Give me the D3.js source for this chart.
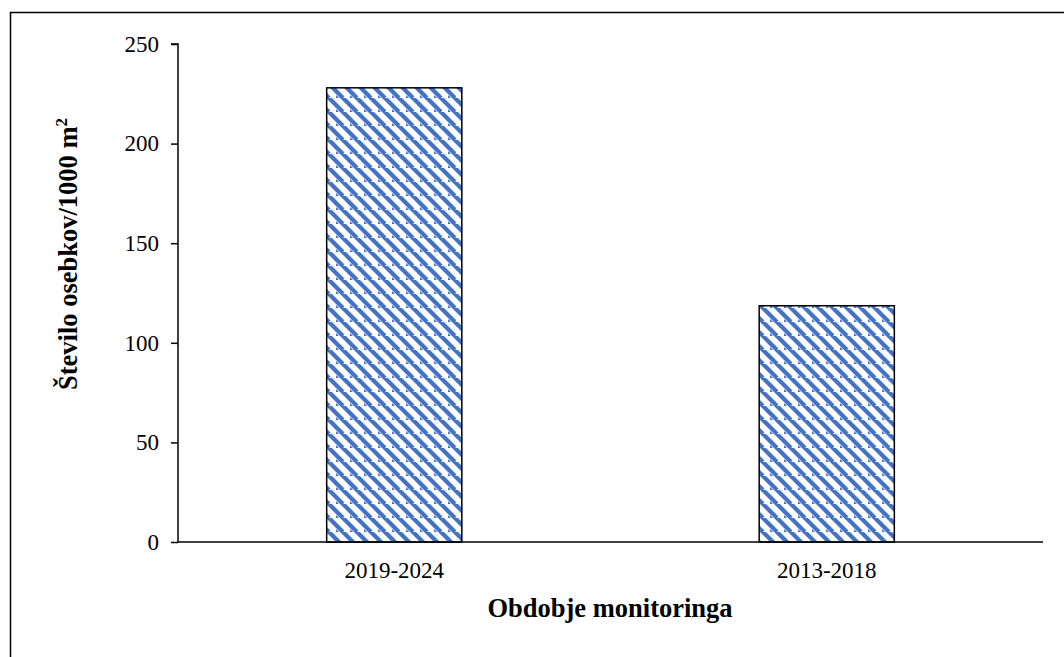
<!DOCTYPE html>
<html><head><meta charset="utf-8">
<script src="https://cdn.jsdelivr.net/npm/d3@7"></script>
<style>body{margin:0;background:#fff}svg{display:block}</style>
</head><body>
<svg id="c" width="1064" height="657"></svg>
<script>
const categories = ["2019-2024", "2013-2018"];
const values = [228, 118.6];
const yTicks = [0, 50, 100, 150, 200, 250];

const svg = d3.select("#c");
const m = {left: 178, right: 1043, top: 44, bottom: 542};
const font = "'Liberation Serif','Times New Roman',serif";

svg.append("rect").attr("x", 10.5).attr("y", 12.5).attr("width", 1100).attr("height", 700)
  .attr("fill", "none").attr("stroke", "#000").attr("stroke-width", 1.5);

const defs = svg.append("defs");
const pat = defs.append("pattern").attr("id", "hatch").attr("patternUnits", "userSpaceOnUse")
  .attr("width", 14).attr("height", 14);
pat.append("rect").attr("width", 14).attr("height", 14).attr("fill", "#fff");
pat.append("path").attr("d", "M-7,0 L7,14 M0,-7 L14,7 M7,0 L21,14 M0,7 L7,14 M-7,7 L7,21")
  .attr("stroke", "#4472C4").attr("stroke-width", 4.2);

const x = d3.scaleBand().domain(categories).range([m.left, m.right]).paddingInner(0.6875).paddingOuter(0.34375);
const y = d3.scaleLinear().domain([0, 250]).range([m.bottom, m.top]);

svg.selectAll("rect.bar").data(values).enter().append("rect").attr("class", "bar")
  .attr("x", (d, i) => x(categories[i])).attr("y", d => y(d))
  .attr("width", x.bandwidth()).attr("height", d => y(0) - y(d))
  .attr("fill", "url(#hatch)").attr("stroke", "#000").attr("stroke-width", 1.5);

const ya = svg.append("g").attr("transform", `translate(${m.left},0)`)
  .call(d3.axisLeft(y).tickValues(yTicks).tickSize(7).tickPadding(12));
ya.select(".domain").attr("stroke-width", 1.5).attr("d", `M-7,${m.top}H0V${m.bottom}`);
ya.selectAll(".tick line").attr("stroke-width", 1.5);
ya.selectAll("text").attr("font-family", font).attr("font-size", 23).attr("fill", "#000");

const xa = svg.append("g").attr("transform", `translate(0,${m.bottom})`)
  .call(d3.axisBottom(x).tickSize(0).tickPadding(20));
xa.select(".domain").attr("stroke-width", 1.5).attr("d", `M${m.left},0H${m.right}`);
xa.selectAll("text").attr("font-family", font).attr("font-size", 23).attr("fill", "#000");

svg.append("text").attr("x", 610).attr("y", 617).attr("text-anchor", "middle")
  .attr("font-family", font).attr("font-size", 26.5).attr("font-weight", "bold").text("Obdobje monitoringa");

const yt = svg.append("text").attr("transform", "translate(77,254) rotate(-90)").attr("text-anchor", "middle")
  .attr("font-family", font).attr("font-size", 26.5).attr("font-weight", "bold");
yt.append("tspan").text("Število osebkov/1000 m");
yt.append("tspan").attr("font-size", 17).attr("dy", -10).text("2");
</script>
</body></html>
